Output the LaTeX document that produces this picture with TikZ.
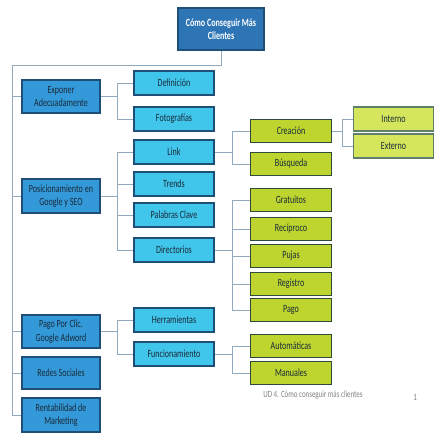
\documentclass[tikz,border=0pt]{standalone}
\usepackage{fontspec}
\setmainfont[FakeStretch=0.73]{Carlito}
\definecolor{rootfill}{HTML}{2E75B6}
\definecolor{rootdraw}{HTML}{1F4E79}
\definecolor{lonefill}{HTML}{3399D8}
\definecolor{ltwofill}{HTML}{40C6EA}
\definecolor{lthreefill}{HTML}{BDD52E}
\definecolor{lthreedraw}{HTML}{2F4A3A}
\definecolor{lfourfill}{HTML}{D5E65C}
\definecolor{lfourdraw}{HTML}{5E7F6A}
\definecolor{linkcol}{HTML}{93A9BE}
\definecolor{textdark}{HTML}{1A2A3A}
\begin{document}
\begin{tikzpicture}[x=1pt,y=-1pt,
  box/.style={draw, line width=1.6pt, align=center, inner sep=1pt, font=\fontsize{11}{13.5}\selectfont, text=textdark},
  rootbox/.style={box, fill=rootfill, draw=rootdraw, text=white, font=\bfseries\fontsize{11}{13.5}\selectfont, minimum width=86pt, minimum height=42pt},
  lone/.style={box, fill=lonefill, draw=rootdraw, minimum width=78pt, minimum height=33pt},
  ltwo/.style={box, fill=ltwofill, draw=rootdraw, minimum width=80pt, minimum height=24pt},
  lthree/.style={box, fill=lthreefill, draw=lthreedraw, minimum width=81pt, minimum height=23pt},
  lfour/.style={box, fill=lfourfill, draw=lfourdraw, line width=1.2pt, minimum width=80pt, minimum height=24pt},
  conn/.style={draw=linkcol, line width=0.9pt},
  foot/.style={text=gray, font=\fontsize{9.5}{11}\selectfont, inner sep=0pt}
]
\useasboundingbox (0,0) rectangle (443,443);
\coordinate (tk) at (12,65);
\node[rootbox] (root) at (221,29) {Cómo Conseguir Más\\Clientes};
\node[lone] (exp) at (61,96.5) {Exponer\\Adecuadamente};
\node[lone, minimum height=34pt] (pos) at (61,196) {Posicionamiento en\\Google y SEO};
\node[lone] (ppc) at (61,331.5) {Pago Por Clic.\\Google Adword};
\node[lone, minimum height=32pt] (red) at (61,373) {Redes Sociales};
\node[lone, minimum height=34pt] (ren) at (61,415) {Rentabilidad de\\Marketing};

\node[ltwo] (def) at (174,83) {Definición};
\node[ltwo] (fot) at (174,119) {Fotografías};
\node[ltwo] (lnk) at (174,152) {Link};
\node[ltwo] (tre) at (174,184) {Trends};
\node[ltwo] (pal) at (174,215) {Palabras Clave};
\node[ltwo] (dir) at (174,250) {Directorios};
\node[ltwo] (her) at (174,320) {Herramientas};
\node[ltwo] (fun) at (174,354) {Funcionamiento};

\node[lthree] (cre) at (291,131) {Creación};
\node[lthree] (bus) at (291,164) {Búsqueda};
\node[lthree] (gra) at (291,200) {Gratuitos};
\node[lthree] (rec) at (291,229) {Recíproco};
\node[lthree] (puj) at (291,256) {Pujas};
\node[lthree] (reg) at (291,284) {Registro};
\node[lthree] (pag) at (291,310) {Pago};
\node[lthree] (aut) at (291,346) {Automáticas};
\node[lthree] (man) at (291,373) {Manuales};

\node[lfour] (int) at (393.5,119) {Interno};
\node[lfour] (ext) at (393.5,146) {Externo};

\node[foot] (ft) at (313,395) {UD 4. Cómo conseguir más clientes};
\node[foot] (pg) at (415,397) {1};

% trunk
\draw[conn] (root.south) |- (tk);
\foreach \n in {exp,pos,ppc,red,ren}{\draw[conn] (tk) |- (\n.west);}
% level 1 to 2
\foreach \n in {def,fot}{\draw[conn] (exp.east) -- ++(17,0) |- (\n.west);}
\foreach \n in {lnk,tre,pal,dir}{\draw[conn] (pos.east) -- ++(17,0) |- (\n.west);}
\foreach \n in {her,fun}{\draw[conn] (ppc.east) -- ++(17,0) |- (\n.west);}
% level 2 to 3
\foreach \n in {cre,bus}{\draw[conn] (lnk.east) -- ++(18,0) |- (\n.west);}
\foreach \n in {gra,rec,puj,reg,pag}{\draw[conn] (dir.east) -- ++(18,0) |- (\n.west);}
\foreach \n in {aut,man}{\draw[conn] (fun.east) -- ++(18,0) |- (\n.west);}
% level 3 to 4
\foreach \n in {int,ext}{\draw[conn] (cre.east) -- ++(10,0) |- (\n.west);}
\end{tikzpicture}
\end{document}
